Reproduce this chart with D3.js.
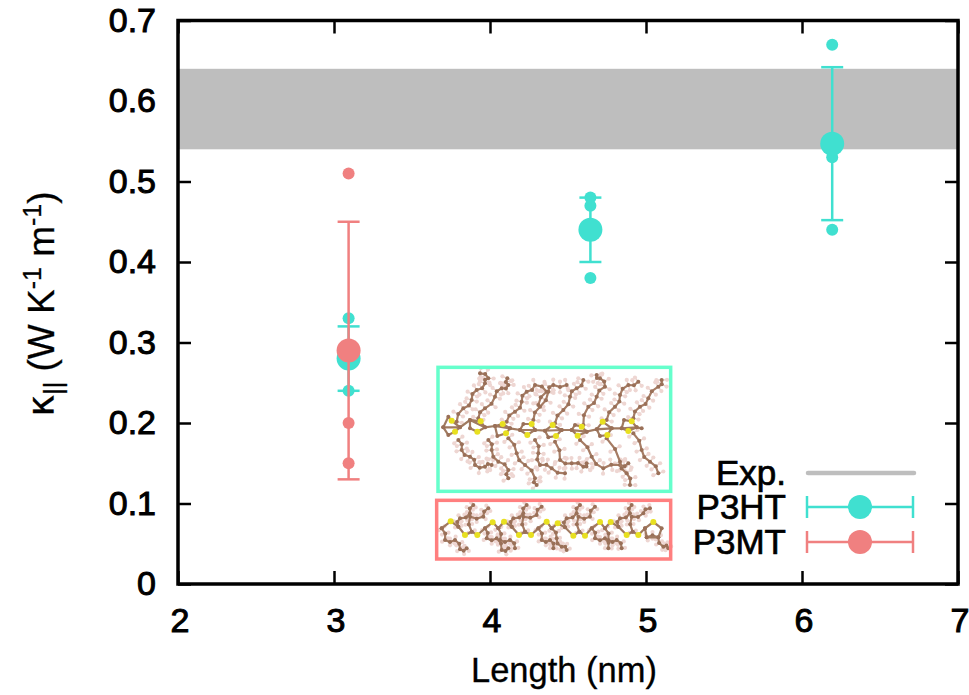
<!DOCTYPE html>
<html><head><meta charset="utf-8">
<style>html,body{margin:0;padding:0;background:#fff}svg{display:block}text{font-family:"Liberation Sans",Arial,sans-serif;fill:#000}</style>
<script src="https://cdn.jsdelivr.net/npm/d3@7"></script></head><body>
<script>
const xTicks=[2,3,4,5,6,7];
const yTicks=[0,0.1,0.2,0.3,0.4,0.5,0.6,0.7];
const expBand=[0.54,0.64];
const p3htMeans=[{x:3.1,y:0.28,lo:0.24,hi:0.32},{x:4.65,y:0.44,lo:0.40,hi:0.48},{x:6.2,y:0.547,lo:0.452,hi:0.642}];
const p3htSamples=[[3.1,0.33],[3.1,0.24],[4.65,0.48],[4.65,0.47],[4.65,0.38],[6.2,0.67],[6.2,0.53],[6.2,0.44]];
const p3mtMeans=[{x:3.1,y:0.29,lo:0.13,hi:0.45}];
const p3mtSamples=[[3.1,0.51],[3.1,0.2],[3.1,0.15]];
const legendLabels=["Exp.","P3HT","P3MT"];
const colors={ht:"#40e0d0",mt:"#f08080",exp:"#bebebe",htBox:"#66ffcc",mtBox:"#ff7f7f"};

// Molecule insets, in zoomed-picture units
const htSulfur=[[95,212],[105,245],[182,214],[172,245],[248,222],[258,250],[335,222],[322,255],[398,225],[408,258],[485,230],[473,257],[548,215],[562,255],[635,214],[625,243]];
const htBackbone=[[70,232],[85,200],[95,212],[120,232],[105,245],[85,255],[70,232],[120,232],[150,210],[182,214],[195,232],[172,245],[150,235],[150,210],[195,232],[225,228],[248,222],[270,235],[258,250],[232,258],[225,228],[270,235],[300,240],[322,255],[345,240],[335,222],[310,222],[300,240],[345,240],[375,242],[398,225],[425,240],[408,258],[385,262],[375,242],[425,240],[455,240],[473,257],[500,245],[485,230],[465,225],[455,240],[500,245],[530,238],[548,215],[575,235],[562,255],[540,258],[530,238],[575,235],[605,235],[625,243],[650,232],[635,214],[612,210],[605,235],[650,232],[665,235]];
const htChains=[
 [[110,215],[130,175],[155,150],[170,120],[195,100],[205,85],[180,70]],
 [[175,205],[195,175],[225,140],[245,115],[265,105],[262,85]],
 [[260,215],[285,185],[305,155],[320,125],[345,105],[380,125],[355,165]],
 [[340,210],[360,170],[385,125],[400,105],[440,105]],
 [[405,220],[430,180],[450,140],[470,115],[490,90]],
 [[490,225],[505,170],[530,140],[555,110],[540,85],[530,75]],
 [[560,210],[585,170],[600,135],[625,105],[655,95]],
 [[640,205],[660,170],[685,145],[715,110],[725,90]],
 [[115,270],[125,300],[150,320],[165,345],[195,350],[215,345]],
 [[205,270],[215,300],[235,335],[265,360],[265,385]],
 [[265,265],[290,310],[315,345],[345,385],[350,405]],
 [[345,270],[355,310],[360,345],[395,355],[435,370]],
 [[405,275],[420,330],[455,340],[490,350],[500,340]],
 [[480,270],[515,320],[550,355],[600,345],[625,340]],
 [[560,265],[600,335],[620,370],[630,405]],
 [[640,250],[665,300],[690,335],[715,370]]
];
const mtSulfur=[[92,514],[135,555],[172,555],[218,517],[252,515],[297,555],[333,555],[380,515],[413,520],[460,557],[495,557],[540,516],[572,516],[620,555],[655,555],[700,516]];
const mtBackbone=[[65,535],[92,514],[115,530],[135,555],[155,545],[172,555],[195,535],[218,517],[235,535],[252,515],[275,530],[297,555],[315,545],[333,555],[355,535],[380,515],[395,535],[413,520],[435,532],[460,557],[478,545],[495,557],[515,535],[540,516],[555,535],[572,516],[595,530],[620,555],[638,545],[655,555],[675,535],[700,516],[725,535],[715,562],[680,562],[675,535]];
const mtChains=[
 [[65,535],[75,570],[105,570],[120,598],[140,595]],
 [[115,530],[120,505],[150,490],[160,465]],
 [[155,545],[150,500],[190,500],[205,475]],
 [[195,535],[200,565],[230,565],[245,600],[265,595]],
 [[235,535],[240,570],[270,570],[285,595]],
 [[275,530],[280,505],[310,490],[320,465]],
 [[315,545],[310,500],[350,495],[365,470]],
 [[355,535],[365,570],[390,570],[400,595]],
 [[395,535],[410,565],[425,590],[440,600]],
 [[435,532],[440,505],[470,490],[480,465]],
 [[478,545],[475,500],[510,500],[525,470]],
 [[515,535],[525,565],[555,565],[565,595]],
 [[555,535],[565,570],[590,570],[605,595]],
 [[595,530],[600,505],[630,490],[635,465]],
 [[638,545],[635,500],[670,490],[690,475]],
 [[680,562],[715,562],[730,590],[745,595]]
];

const W=969,H=695;
const x=d3.scaleLinear().domain([2,7]).range([178,958]);
const y=d3.scaleLinear().domain([0,0.7]).range([584,20.5]);
const ix=d3.scaleLinear().domain([0,810]).range([420,690]);
const iy=d3.scaleLinear().domain([0,660]).range([350,570]);
const svg=d3.select("body").append("svg").attr("width",W).attr("height",H);
const tickLen=13;
function styleAxis(g){g.select(".domain").remove();g.selectAll("line").attr("stroke","#000").attr("stroke-width",2.5);}
function label(g,size){g.selectAll("text").attr("font-size",size).attr("fill","#000").attr("stroke","#000").attr("stroke-width",1);}
const fmtY=d=>d===0?"0":d3.format(".1f")(d);
svg.append("g").attr("transform",`translate(${x(2)},0)`).call(d3.axisLeft(y).tickValues(yTicks).tickFormat(fmtY).tickSize(-tickLen).tickPadding(22)).call(styleAxis).call(label,34);
svg.append("g").attr("transform",`translate(${x(7)},0)`).call(d3.axisRight(y).tickValues(yTicks).tickFormat("").tickSize(-tickLen)).call(styleAxis);
const xAxisG=svg.append("g").attr("transform",`translate(0,${y(0)})`).call(d3.axisBottom(x).tickValues(xTicks).tickFormat(d3.format("d")).tickSize(-tickLen).tickPadding(24)).call(styleAxis).call(label,34);
xAxisG.selectAll("text").attr("dx",1.5);
svg.append("g").attr("transform",`translate(0,${y(0.7)})`).call(d3.axisTop(x).tickValues(xTicks).tickFormat("").tickSize(-tickLen)).call(styleAxis);
svg.append("rect").attr("x",x(2)).attr("width",x(7)-x(2)).attr("y",y(expBand[1])).attr("height",y(expBand[0])-y(expBand[1])).attr("fill",colors.exp);
svg.append("rect").attr("x",x(2)).attr("y",y(0.7)).attr("width",x(7)-x(2)).attr("height",y(0)-y(0.7)).attr("fill","none").attr("stroke","#000").attr("stroke-width",3.5);

function series(means,samples,c){
 const g=svg.append("g").attr("stroke",c).attr("fill",c);
 samples.forEach(s=>g.append("circle").attr("cx",x(s[0])-1).attr("cy",y(s[1])).attr("r",6).attr("stroke","none"));
 means.forEach(d=>{
  g.append("line").attr("x1",x(d.x)-1).attr("x2",x(d.x)-1).attr("y1",y(d.lo)).attr("y2",y(d.hi)).attr("stroke-width",2.5);
  [d.lo,d.hi].forEach(v=>g.append("line").attr("x1",x(d.x)-12).attr("x2",x(d.x)+10).attr("y1",y(v)).attr("y2",y(v)).attr("stroke-width",2.5));
  g.append("circle").attr("cx",x(d.x)-1).attr("cy",y(d.y)).attr("r",12).attr("stroke","none");
 });
}
series(p3htMeans,p3htSamples,colors.ht);
series(p3mtMeans,p3mtSamples,colors.mt);

// axis titles
svg.append("text").attr("x",564).attr("y",682).attr("text-anchor","middle").attr("font-size",34.5).attr("stroke","#000").attr("stroke-width",0.3).text("Length (nm)");
const yl=svg.append("text").attr("transform","translate(54,304) rotate(-90)").attr("text-anchor","middle").attr("font-size",37).attr("stroke","#000").attr("stroke-width",0.3);
yl.append("tspan").attr("font-family","DejaVu Sans").text("κ");
yl.append("tspan").attr("font-size",25).attr("dy",8).text("||");
yl.append("tspan").attr("dy",-8).text(" (W K");
yl.append("tspan").attr("font-size",25).attr("dy",-13).text("-1");
yl.append("tspan").attr("dy",13).text(" m");
yl.append("tspan").attr("font-size",25).attr("dy",-13).text("-1");
yl.append("tspan").attr("dy",13).text(")");

// molecule insets: each chain is drawn as a carbon zig-zag
function zigzag(ch,amp){
 const out=[];
 ch.forEach((p,i)=>{
  out.push(p);
  if(i<ch.length-1){
   const q=ch[i+1],dx=q[0]-p[0],dy=q[1]-p[1],n=Math.hypot(dx,dy)||1,s=i%2?1:-1;
   out.push([(p[0]+q[0])/2-s*dy/n*amp,(p[1]+q[1])/2+s*dx/n*amp]);
  }
 });
 return out;
}
const path=d3.line().x(d=>ix(d[0])).y(d=>iy(d[1]));
function molecule(chains,backbone,sulfur,hDist){
 const g=svg.append("g").style("filter","blur(0.35px)");
 const zz=chains.map(c=>zigzag(c,6));
 zz.forEach(ch=>{
  ch.forEach((p,i)=>{
   const a=ch[Math.max(0,i-1)],b=ch[Math.min(ch.length-1,i+1)];
   const dx=b[0]-a[0],dy=b[1]-a[1],n=Math.hypot(dx,dy)||1;
   [1,-1].forEach(s=>{
    const hx=p[0]-s*dy/n*hDist,hy=p[1]+s*dx/n*hDist;
    g.append("line").attr("x1",ix(p[0])).attr("y1",iy(p[1])).attr("x2",ix(hx)).attr("y2",iy(hy)).attr("stroke","#e6d0ca").attr("stroke-width",1.3);
    g.append("circle").attr("cx",ix(hx)).attr("cy",iy(hy)).attr("r",2.1).attr("fill","#eed6d2");
   });
  });
 });
 zz.forEach(ch=>{
  g.append("path").attr("d",path(ch)).attr("fill","none").attr("stroke","#a67c64").attr("stroke-width",2.2);
  ch.forEach(p=>g.append("circle").attr("cx",ix(p[0])).attr("cy",iy(p[1])).attr("r",2).attr("fill","#9a7058"));
 });
 g.append("path").attr("d",path(backbone)).attr("fill","none").attr("stroke","#a07a60").attr("stroke-width",2.2);
 backbone.forEach(p=>g.append("circle").attr("cx",ix(p[0])).attr("cy",iy(p[1])).attr("r",2).attr("fill","#9a7058"));
 sulfur.forEach(p=>g.append("circle").attr("cx",ix(p[0])).attr("cy",iy(p[1])).attr("r",3).attr("fill","#e8e020"));
}
molecule(htChains,htBackbone,htSulfur,16);
molecule(mtChains,mtBackbone,mtSulfur,10);
svg.append("rect").attr("x",ix(54)).attr("y",iy(52)).attr("width",ix(752)-ix(54)).attr("height",iy(424)-iy(52)).attr("fill","none").attr("stroke",colors.htBox).attr("stroke-width",3.5);
svg.append("rect").attr("x",ix(50)).attr("y",iy(451)).attr("width",ix(752)-ix(50)).attr("height",iy(627)-iy(451)).attr("fill","none").attr("stroke",colors.mtBox).attr("stroke-width",3.5);

// legend
const legY=[473,507,542];
legendLabels.forEach((t,i)=>svg.append("text").attr("x",786).attr("y",legY[i]+12).attr("text-anchor","end").attr("font-size",35).attr("stroke","#000").attr("stroke-width",0.7).text(t));
svg.append("line").attr("x1",808).attr("x2",914).attr("y1",legY[0]).attr("y2",legY[0]).attr("stroke",colors.exp).attr("stroke-width",4.5).attr("stroke-linecap","round");
[[1,colors.ht],[2,colors.mt]].forEach(([i,c])=>{
 const g=svg.append("g").attr("stroke",c).attr("stroke-width",2.5);
 g.append("line").attr("x1",807).attr("x2",913).attr("y1",legY[i]).attr("y2",legY[i]);
 [807,913].forEach(v=>g.append("line").attr("x1",v).attr("x2",v).attr("y1",legY[i]-11).attr("y2",legY[i]+11));
 g.append("circle").attr("cx",860).attr("cy",legY[i]).attr("r",12).attr("fill",c).attr("stroke","none");
});
</script></body></html>
